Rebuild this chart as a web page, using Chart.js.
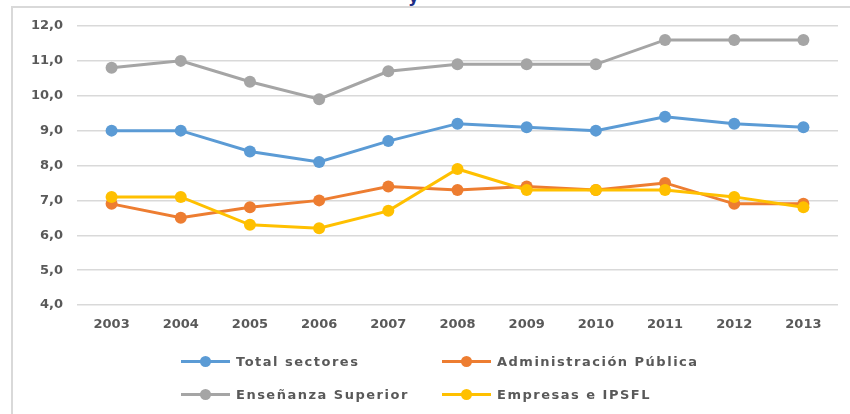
<!DOCTYPE html>
<html>
<head>
<meta charset="utf-8">
<script src="https://cdn.jsdelivr.net/npm/chart.js@4"></script>
<style>
    body { margin: 0; background: #fff; }
    #wrap { position: relative; width: 850px; height: 414px; overflow: hidden; }
    #frame { position: absolute; left: 11px; top: 6px; width: 850px; height: 420px;
             border-left: 2px solid #d9d9d9; border-top: 2px solid #d9d9d9; }
    #title { position: absolute; left: 408px; top: -14px; font: bold 17px "DejaVu Sans", sans-serif; color: #1f2f86; }
    canvas { position: absolute; left: 0; top: 0; }
    .leg { position: absolute; font: bold 13px "DejaVu Sans", sans-serif; color: #595959;
           display: flex; align-items: center; letter-spacing: 1.5px; }
    .leg .mk { position: relative; width: 49px; height: 3px; margin-right: 6px; }
    .leg .mk span { position: absolute; left: 19px; top: -4px; width: 11px; height: 11px; border-radius: 50%; }
</style>
</head>
<body>
<div id="wrap">
    <div id="frame"></div>
    <div id="title">y</div>
    <canvas id="chart" width="850" height="414"></canvas>
    <div id="legend"></div>
</div>
<script>
// Chart data
const years = ['2003', '2004', '2005', '2006', '2007', '2008', '2009', '2010', '2011', '2012', '2013'];
const totalSectores = [9.0, 9.0, 8.4, 8.1, 8.7, 9.2, 9.1, 9.0, 9.4, 9.2, 9.1];
const adminPublica = [6.9, 6.5, 6.8, 7.0, 7.4, 7.3, 7.4, 7.3, 7.5, 6.9, 6.9];
const ensenanzaSuperior = [10.8, 11.0, 10.4, 9.9, 10.7, 10.9, 10.9, 10.9, 11.6, 11.6, 11.6];
const empresasIpsfl = [7.1, 7.1, 6.3, 6.2, 6.7, 7.9, 7.3, 7.3, 7.3, 7.1, 6.8];
const yTicks = [4, 5, 6, 7, 8, 9, 10, 11, 12];

const series = [
    { label: 'Total sectores', data: totalSectores, color: '#5b9bd5' },
    { label: 'Administración Pública', data: adminPublica, color: '#ed7d31' },
    { label: 'Enseñanza Superior', data: ensenanzaSuperior, color: '#a5a5a5' },
    { label: 'Empresas e IPSFL', data: empresasIpsfl, color: '#ffc000' }
];

// draw order: last in array ends up on top
const drawOrder = [2, 0, 1, 3];

const tickFont = { family: 'DejaVu Sans', size: 13, weight: 'bold' };

new Chart(document.getElementById('chart'), {
    type: 'line',
    data: {
        labels: years,
        datasets: series.map((s, i) => ({
            label: s.label,
            data: s.data,
            borderColor: s.color,
            backgroundColor: s.color,
            borderWidth: 3,
            pointRadius: 6,
            pointBorderWidth: 0,
            pointHoverRadius: 6,
            tension: 0,
            order: -drawOrder.indexOf(i)
        }))
    },
    options: {
        responsive: false,
        animation: false,
        layout: { padding: { top: 26, right: 12, left: 0, bottom: 0 } },
        plugins: { legend: { display: false }, tooltip: { enabled: false } },
        scales: {
            x: {
                offset: true,
                grid: { display: false, drawTicks: false },
                border: { display: false },
                ticks: { font: tickFont, color: '#595959', padding: 12 },
                afterFit: (scale) => { scale.height = 109; }
            },
            y: {
                min: 4,
                max: 12,
                afterBuildTicks: (scale) => { scale.ticks = yTicks.map(v => ({ value: v })); },
                grid: { color: '#d9d9d9', lineWidth: 1.5, drawTicks: false },
                border: { display: false },
                ticks: {
                    font: tickFont,
                    color: '#595959',
                    padding: 14,
                    callback: (v) => v.toFixed(1).replace('.', ',')
                },
                afterFit: (scale) => { scale.width = 77; }
            }
        }
    }
});

// Legend in two columns
const legendPos = [
    { left: 181, top: 362 },
    { left: 442, top: 362 },
    { left: 181, top: 395 },
    { left: 442, top: 395 }
];
const legendEl = document.getElementById('legend');
series.forEach((s, i) => {
    const item = document.createElement('div');
    item.className = 'leg';
    item.style.left = legendPos[i].left + 'px';
    item.style.top = (legendPos[i].top - 8) + 'px';
    item.innerHTML = '<div class="mk" style="background:' + s.color + '"><span style="background:' + s.color + '"></span></div>' + s.label;
    legendEl.appendChild(item);
});
</script>
</body>
</html>
